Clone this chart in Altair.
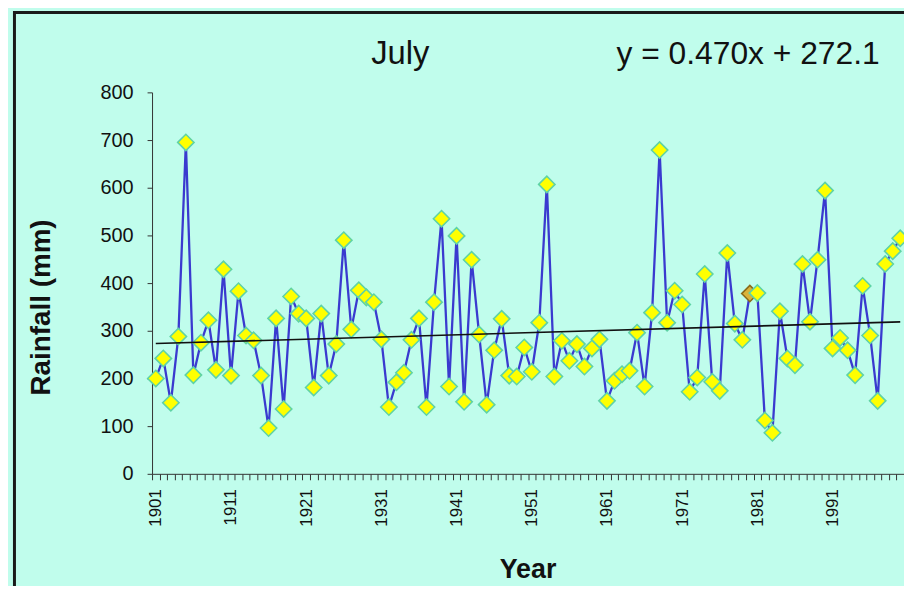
import altair as alt
import pandas as pd

# ---- data ----
years = list(range(1901, 2001))
rainfall = [
    200, 242, 149, 288, 695, 207, 275, 322, 218, 429,   # 1901-1910
    206, 383, 290, 280, 206, 96, 326, 136, 372, 336,    # 1911-1920
    326, 181, 336, 206, 272, 490, 303, 385, 370, 360,   # 1921-1930
    282, 140, 192, 212, 281, 326, 140, 360, 535, 183,   # 1931-1940
    499, 151, 449, 292, 145, 259, 325, 206, 204, 265,   # 1941-1950
    214, 317, 607, 204, 279, 237, 272, 225, 263, 282,   # 1951-1960
    153, 195, 209, 216, 296, 183, 338, 679, 317, 384,   # 1961-1970
    355, 172, 202, 419, 193, 174, 463, 315, 281, 378,   # 1971-1980
    379, 112, 86, 341, 242, 228, 440, 319, 449, 594,    # 1981-1990
    263, 285, 259, 207, 394, 290, 153, 440, 467, 494,   # 1991-2000
]
highlight_years = [1980]
x_label_years = list(range(1901, 2000, 10))
y_ticks = list(range(0, 900, 100))

title_text = "July"
equation_text = "y = 0.470x + 272.1"
x_title = "Year"
y_title = "Rainfall (mm)"

df = pd.DataFrame({"Year": years, "Rainfall": rainfall})
df["hl"] = df["Year"].isin(highlight_years)

W, H = 757, 384
half = W / 200.0
BG = "#C0FDEC"
FONT = "Liberation Sans"

x_axis = alt.Axis(
    values=list(range(1901, 2002)),
    format="d",
    tickOffset=-half,
    labelOffset=half,
    labelExpr="indexof([" + ",".join(str(v) for v in x_label_years) + "], datum.value) >= 0 ? datum.label : ''",
    labelAngle=270,
    labelAlign="right",
    labelBaseline="middle",
    labelPadding=9,
    labelFontSize=17,
    labelFont=FONT,
    labelColor="#111111",
    labelOverlap=False,
    labelFlush=False,
    tickSize=6,
    tickColor="#333333",
    domainColor="#333333",
    grid=False,
    title=x_title,
    titleFont=FONT,
    titleFontSize=27,
    titleFontWeight="bold",
    titleColor="#111111",
    titleX=378,
    titleY=104,
    titleBaseline="alphabetic",
    titleAlign="center",
)
y_axis = alt.Axis(
    values=y_ticks,
    tickSize=5,
    tickColor="#333333",
    domainColor="#333333",
    labelPadding=14,
    labelFontSize=20,
    labelFont=FONT,
    labelColor="#111111",
    grid=False,
    title=y_title,
    titleFont=FONT,
    titleFontSize=28,
    titleFontWeight="bold",
    titleColor="#111111",
    titleX=-111,
    titleY=216,
    titleAngle=270,
    titleAlign="center",
    titleBaseline="middle",
)

x_enc = alt.X("Year:Q", scale=alt.Scale(domain=[1900.5, 2000.5], nice=False, zero=False), axis=x_axis)
y_enc = alt.Y("Rainfall:Q", scale=alt.Scale(domain=[0, 800], nice=False), axis=y_axis)

base = alt.Chart(df).encode(x=x_enc, y=y_enc)

line = base.mark_line(color="#3A3ACF", strokeWidth=2.3)
points = base.mark_point(shape="diamond", filled=True, size=270, strokeWidth=1.6, opacity=1).encode(
    fill=alt.condition("datum.hl", alt.value("#D9B23A"), alt.value("#FFFF00")),
    stroke=alt.condition("datum.hl", alt.value("#8A6A1A"), alt.value("#5FD3A5")),
)
trend = base.transform_regression("Year", "Rainfall").mark_line(color="#111111", strokeWidth=1.6)

title_mark = alt.Chart(pd.DataFrame({"t": [title_text]})).mark_text(
    font=FONT, fontSize=33, color="#111111", align="center", baseline="alphabetic"
).encode(text="t:N", x=alt.value(250), y=alt.value(-29))
eq_mark = alt.Chart(pd.DataFrame({"t": [equation_text]})).mark_text(
    font=FONT, fontSize=32, color="#111111", align="center", baseline="alphabetic"
).encode(text="t:N", x=alt.value(600), y=alt.value(-29))

frame = alt.Chart(pd.DataFrame({"a": [0]})).mark_rect(
    filled=False, stroke="#1a1a1a", strokeWidth=3
).encode(x=alt.value(-138.5), x2=alt.value(900), y=alt.value(-80.5), y2=alt.value(700))

chart = alt.layer(line, points, trend, title_mark, eq_mark, frame).properties(
    width=W,
    height=H,
    background=BG,
    padding={"left": 145, "top": 83, "right": 0, "bottom": 111},
    autosize=alt.AutoSizeParams(type="none"),
).configure_view(stroke=None)

chart.save("out.html", embed_options={"renderer": "svg", "actions": False})
